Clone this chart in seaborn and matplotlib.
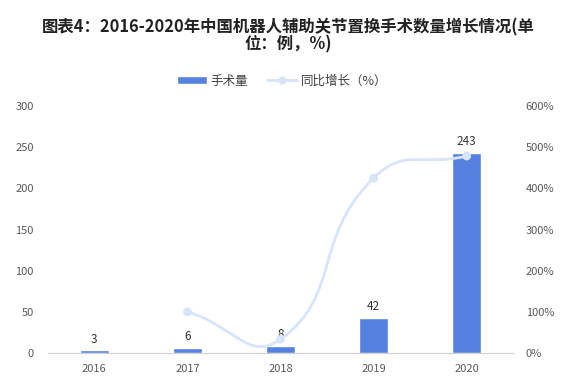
import numpy as np
import pandas as pd
import matplotlib
matplotlib.use("Agg")
import matplotlib.pyplot as plt
from matplotlib.path import Path
from matplotlib.patches import PathPatch, Patch
from matplotlib.lines import Line2D
import seaborn as sns

years = ["2016", "2017", "2018", "2019", "2020"]
volume = [3, 6, 8, 42, 243]
growth_years = ["2017", "2018", "2019", "2020"]
growth = [100.0, 33.3, 425.0, 478.6]

sns.set_style("white")
plt.rcParams["font.family"] = ["Noto Sans CJK SC", "DejaVu Sans"]

bar_color = "#5582e0"
line_color = "#d8e4f8"
tick_color = "#595959"

fig = plt.figure(figsize=(5.76, 3.9), dpi=100)
ax = fig.add_axes([0.083, 0.095, 0.808, 0.633])

df = pd.DataFrame({"year": years, "volume": volume})
sns.barplot(data=df, x="year", y="volume", color=bar_color, width=0.31,
            saturation=1, ax=ax)
for i, v in enumerate(volume):
    ax.text(i, v + 6, str(v), ha="center", va="bottom", fontsize=8.5, color="#333333")

ax.set_ylim(0, 300)
ax.set_yticks(range(0, 301, 50))
ax.set_xlim(-0.5, len(years) - 0.5)
ax.set_xlabel("")
ax.set_ylabel("")
ax.tick_params(axis="x", length=0, labelsize=8, colors=tick_color, pad=8)
ax.tick_params(axis="y", length=0, labelsize=8, colors=tick_color, pad=10)
for s in ["top", "right", "left"]:
    ax.spines[s].set_visible(False)
ax.spines["bottom"].set_color("#d0d0d0")

ax2 = ax.twinx()
ax2.set_ylim(0, 600)
ax2.set_yticks(range(0, 601, 100))
ax2.set_yticklabels([f"{v}%" for v in range(0, 601, 100)])
ax2.tick_params(axis="y", length=0, labelsize=8, colors=tick_color, pad=9)
for s in ["top", "right", "left", "bottom"]:
    ax2.spines[s].set_visible(False)

# smooth curve (echarts style bezier, computed in pixel-like units)
xs = np.array([years.index(y) for y in growth_years], dtype=float)
ys = np.array(growth)
sx, sy = 93.0, 247.0 / 600.0
pts = np.column_stack([xs * sx, ys * sy])
smooth = 0.5
n = len(pts)
cps = []
for i in range(n):
    cur = pts[i]
    prev = pts[i - 1] if i > 0 else cur
    nxt = pts[i + 1] if i < n - 1 else cur
    v = (nxt - prev) * smooth
    d0 = np.linalg.norm(cur - prev)
    d1 = np.linalg.norm(cur - nxt)
    tot = d0 + d1
    if tot == 0:
        cps.append((cur, cur))
        continue
    cps.append((cur - v * d0 / tot, cur + v * d1 / tot))
verts = [tuple(pts[0])]
codes = [Path.MOVETO]
for i in range(n - 1):
    verts += [tuple(cps[i][1]), tuple(cps[i + 1][0]), tuple(pts[i + 1])]
    codes += [Path.CURVE4] * 3
verts = [(x / sx, y / sy) for x, y in verts]
ax2.add_patch(PathPatch(Path(verts, codes), facecolor="none",
                        edgecolor=line_color, lw=2, zorder=3))
sns.scatterplot(x=xs, y=ys, ax=ax2, color=line_color, s=40, edgecolor="none",
                zorder=4, legend=False)

fig.text(0.5, 0.93, "图表4：2016-2020年中国机器人辅助关节置换手术数量增长情况(单",
         ha="center", va="center", fontsize=11.8, fontweight="bold", color="#222222")
fig.text(0.5, 0.885, "位：例，%)",
         ha="center", va="center", fontsize=11.8, fontweight="bold", color="#222222")

handles = [Patch(facecolor=bar_color, label="手术量"),
           Line2D([0], [0], color=line_color, lw=2, marker="o", markersize=5,
                  label="同比增长（%）")]
fig.legend(handles=handles, loc="center", bbox_to_anchor=(0.49, 0.792), ncol=2,
           frameon=False, fontsize=9, handlelength=2.4, handleheight=0.6,
           columnspacing=1.5, handletextpad=0.3, labelcolor="#404040")

plt.savefig("out.png", dpi=100)
